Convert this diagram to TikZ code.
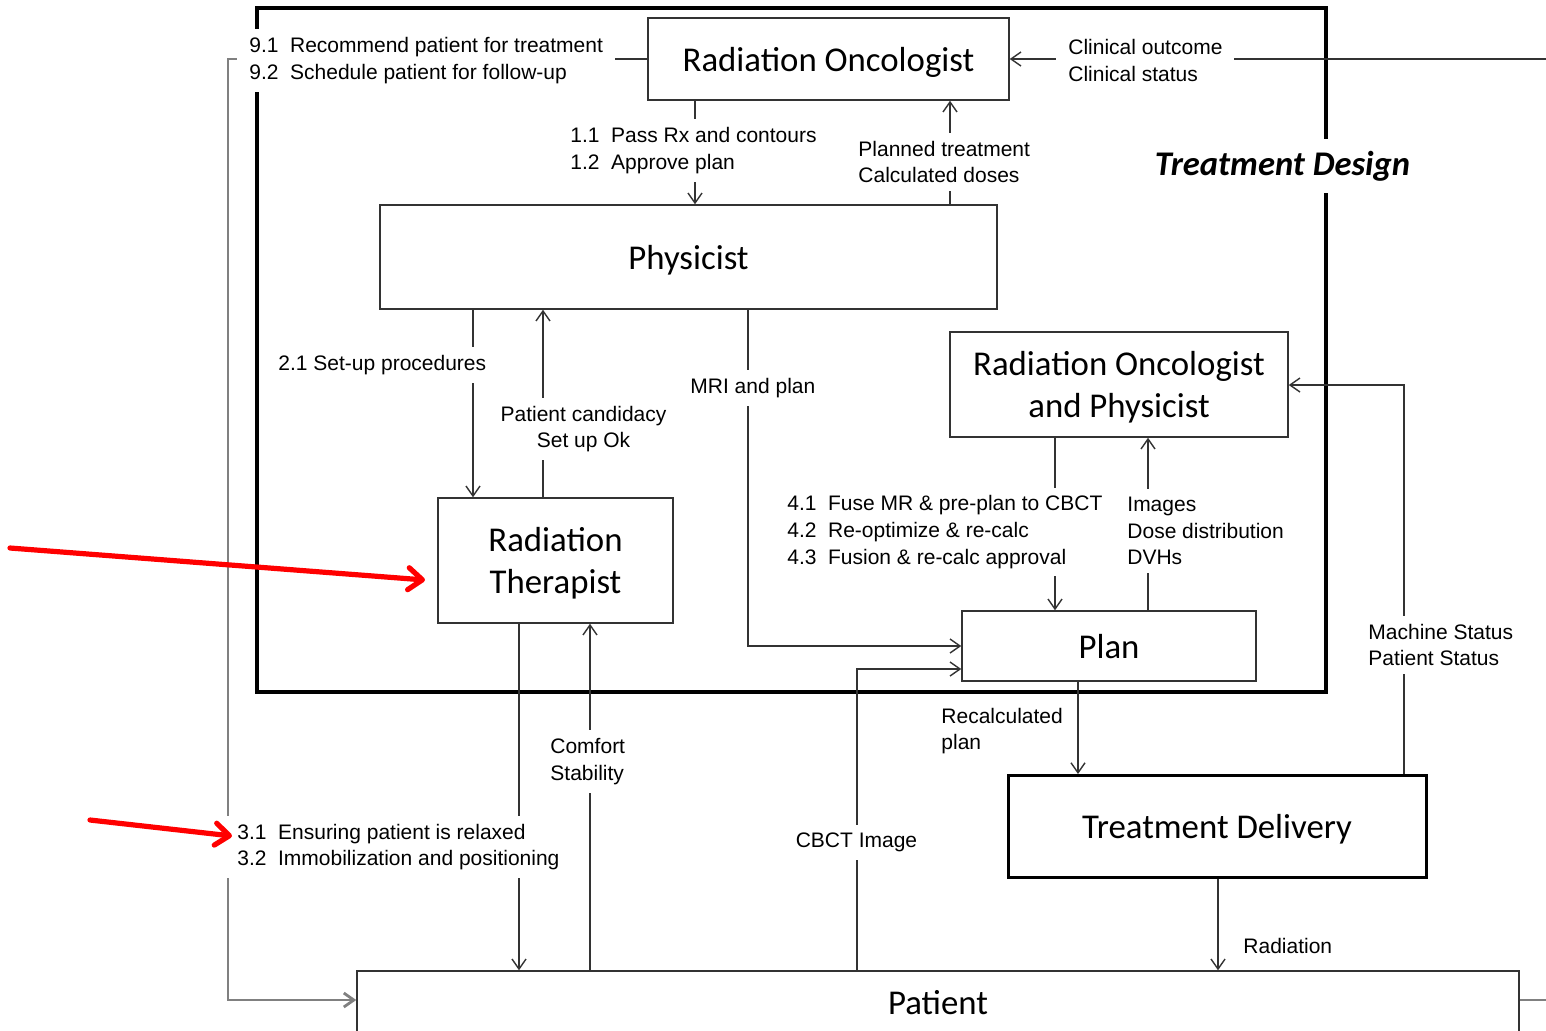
\documentclass[tikz,border=0pt]{standalone}
\usepackage{fontspec}
\setmainfont{Liberation Sans}
\newfontfamily\boxfont{Carlito}
\usetikzlibrary{arrows.meta}
\newcommand\numgap{\hspace{0.55em}}
% box captions, set a little low in their boxes (size kept as if unshifted)
\newcommand\boxtext[1]{\raisebox{-1.8pt}[\height][\depth]{\begin{tabular}{@{}c@{}}#1\end{tabular}}}
\begin{document}
\begin{tikzpicture}[x=0.5pt,y=-0.5pt,
  conn/.style={draw=black!80, line width=0.7pt},
  arr/.style={-{Straight Barb[length=5pt,width=7pt]}},
  box/.style={draw=black!80, line width=0.75pt, fill=white, inner sep=0pt,
              font=\boxfont\fontsize{17.4}{21}\selectfont, align=center},
  lbl/.style={fill=white, inner xsep=6pt, inner ysep=4pt, align=left,
              font=\fontsize{10.5}{13.3}\selectfont},
  frame/.style={draw=black, line width=2.2pt},
  loopline/.style={draw=black!50, line width=1.4pt},
  note/.style={draw=red, line width=2.6pt, line cap=round,
               -{Straight Barb[length=7pt,width=11pt,line cap=round,line join=round]}}]

\useasboundingbox (0,0) rectangle (1546,1030);
\clip (0,0) rectangle (1546,1030);
\fill[white] (0,0) rectangle (1546,1030);

% Treatment design boundary
\draw[frame] (257,8) rectangle (1326,692);

% Boxes
\node[box, minimum width=180.5pt, minimum height=41pt] (ro) at (828.5,59) {\boxtext{Radiation Oncologist}};
\node[box, minimum width=308.5pt, minimum height=52pt] (phys) at (688.5,257) {\boxtext{Physicist}};
\node[box, minimum width=169pt, minimum height=52.5pt] (rop) at (1119,384.5) {\boxtext{Radiation Oncologist\\and Physicist}};
\node[box, minimum width=117.5pt, minimum height=62.5pt] (rt) at (555.5,560.5) {\boxtext{Radiation\\Therapist}};
\node[box, minimum width=147pt, minimum height=35pt] (plan) at (1109,646) {\boxtext{Plan}};
\node[box, line width=1.5pt, draw=black, minimum width=209pt, minimum height=51pt] (td) at (1217,826.5) {\boxtext{Treatment Delivery}};
\node[box, minimum width=581pt, minimum height=31pt] (patient) at (938,1002) {\boxtext{Patient}};

% Free ends at the picture edge
\coordinate (edgeTop) at (1546,59);
\coordinate (edgeBot) at (1546,1000);
\coordinate (loopTop) at (228,59);
\coordinate (loopBot) at (228,1000);
\coordinate (loopIn) at (300,59);

% Connectors
\draw[conn, arr] (695,0 |- ro.south) -- (695,0 |- phys.north);
\draw[conn, arr] (950,0 |- phys.north) -- (950,0 |- ro.south);
\draw[conn, arr] (473,0 |- phys.south) -- (473,0 |- rt.north);
\draw[conn, arr] (543,0 |- rt.north) -- (543,0 |- phys.south);
\draw[conn, arr] (748,0 |- phys.south) -- (748,646) -- (plan.west);
\draw[conn, arr] (1055,0 |- rop.south) -- (1055,0 |- plan.north);
\draw[conn, arr] (1148,0 |- plan.north) -- (1148,0 |- rop.south);
\draw[conn, arr] (857,0 |- patient.north) -- (857,669) -- (plan.west |- 857,669);
\draw[conn, arr] (1078,0 |- plan.south) -- (1078,0 |- td.north);
\draw[conn, arr] (1404,0 |- td.north) -- (1404,385) -- (rop.east |- 1404,385);
\draw[conn, arr] (1218,0 |- td.south) -- (1218,0 |- patient.north);
\draw[conn, arr] (519,0 |- rt.south) -- (519,0 |- patient.north);
\draw[conn, arr] (590,0 |- patient.north) -- (590,0 |- rt.south);
\draw[conn, arr] (edgeTop) -- (ro.east);
\draw[conn] (ro.west) -- (loopIn);
\draw[loopline, arr] (loopIn) -- (loopTop) -- (loopBot) -- (patient.west |- loopBot);
\draw[loopline] (patient.east |- edgeBot) -- (edgeBot);

% Flow labels
\node[lbl, anchor=west] (l9) at (237,60.5) {9.1\numgap Recommend patient for treatment\\9.2\numgap Schedule patient for follow-up};
\node[lbl, anchor=west] (lclin) at (1056,60.5) {Clinical outcome\\Clinical status};
\node[lbl, anchor=west] (l1) at (558,150.5) {1.1\numgap Pass Rx and contours\\1.2\numgap Approve plan};
\node[lbl, anchor=west] (lpt) at (846,162) {Planned treatment\\Calculated doses};
\node[lbl, anchor=west] (l21) at (266,365) {2.1 Set-up procedures};
\node[lbl, align=center] (lcand) at (583.5,429) {Patient candidacy\\Set up Ok};
\node[lbl, anchor=west] (lmri) at (678,388) {MRI and plan};
\node[lbl, anchor=west] (l4) at (775,532) {4.1\numgap Fuse MR \& pre-plan to CBCT\\4.2\numgap Re-optimize \& re-calc\\4.3\numgap Fusion \& re-calc approval};
\node[lbl, anchor=west] (limg) at (1115,531) {Images\\Dose distribution\\DVHs};
\node[lbl, anchor=west] (lrecalc) at (929,731) {Recalculated\\plan};
\node[lbl, anchor=west] (lmach) at (1356,645) {Machine Status\\Patient Status};
\node[lbl, anchor=west] (lcomf) at (538,761.5) {Comfort\\Stability};
\node[lbl] (lcbct) at (856.5,842) {CBCT Image};
\node[lbl, anchor=west] (l3) at (225,847) {3.1\numgap Ensuring patient is relaxed\\3.2\numgap Immobilization and positioning};
\node[lbl, anchor=west] (lrad) at (1231,946) {Radiation};

% Region title
\node[fill=white, inner xsep=4pt, inner ysep=6pt, font=\boxfont\bfseries\itshape\fontsize{17.3}{21}\selectfont] (title) at (1282.5,166) {Treatment Design};

% Red pointers
\coordinate (p1s) at (10,548);
\coordinate (p1e) at (425,580);
\coordinate (p2s) at (90,820);
\coordinate (p2e) at (232,836);
\draw[note] (p1s) -- (p1e);
\draw[note] (p2s) -- (p2e);
\end{tikzpicture}
\end{document}
